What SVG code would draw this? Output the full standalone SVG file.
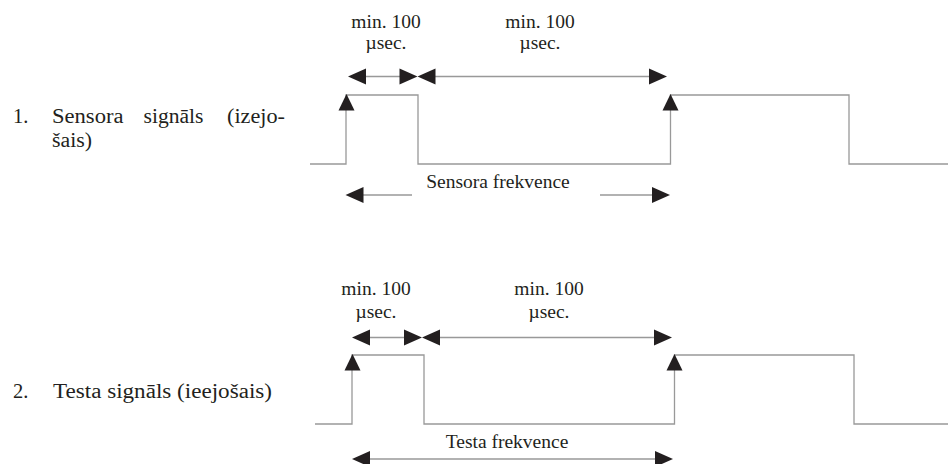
<svg xmlns="http://www.w3.org/2000/svg" width="949" height="464" viewBox="0 0 949 464">
  <style>
    .sig { fill: none; stroke: #999; stroke-width: 1.3; }
    .dim { fill: none; stroke: #999; stroke-width: 1.3; }
    .head { fill: #231f20; }
    .lbl { font-size: 19.5px; text-anchor: middle; fill: #231f20; }
    .cap { font-size: 20.5px; fill: #231f20; }
  </style>
  <defs>
    <!-- arrowheads drawn with their tip at the origin -->
    <path id="tipR" d="M0,0 L-18,-8 L-18,8 Z"/>
    <path id="tipL" d="M0,0 L18,-8 L18,8 Z"/>
    <path id="tipU" d="M0,0 L-8,16.5 L8,16.5 Z"/>
  </defs>

  <rect width="949" height="464" fill="#fff"/>

  <!-- 1. sensor output signal (justified caption) -->
  <g id="sensor-label">
    <text class="cap" font-family="Liberation Serif" x="13" y="123">1.</text>
    <text class="cap" font-family="Liberation Serif" x="52" y="123" textLength="71.5" lengthAdjust="spacingAndGlyphs">Sensora</text>
    <text class="cap" font-family="Liberation Serif" x="143.5" y="123" textLength="60" lengthAdjust="spacingAndGlyphs">signāls</text>
    <text class="cap" font-family="Liberation Serif" x="227" y="123" textLength="58" lengthAdjust="spacingAndGlyphs">(izejo-</text>
    <text class="cap" font-family="Liberation Serif" x="52" y="146.5" textLength="40" lengthAdjust="spacingAndGlyphs">šais)</text>
  </g>
  <g id="sensor-signal">
    <path class="sig" d="M310,164 H346 V95 H418 V164 H670.5 V95 H849 V164 H948"/>
    <use href="#tipU" class="head" x="346.5" y="94"/>
    <use href="#tipU" class="head" x="670.5" y="94"/>
  </g>
  <g id="sensor-timing">
    <text class="lbl" font-family="Liberation Serif" x="386" y="28">min. 100</text>
    <text class="lbl" font-family="Liberation Serif" x="386" y="49">µsec.</text>
    <text class="lbl" font-family="Liberation Serif" x="540" y="28">min. 100</text>
    <text class="lbl" font-family="Liberation Serif" x="540" y="49">µsec.</text>
    <text class="lbl" font-family="Liberation Serif" x="498" y="188">Sensora frekvence</text>
  </g>

  <!-- 2. test input signal -->
  <g id="test-label">
    <text class="cap" font-family="Liberation Serif" x="13" y="398">2.</text>
    <text class="cap" font-family="Liberation Serif" x="53" y="398" textLength="219" lengthAdjust="spacingAndGlyphs">Testa signāls (ieejošais)</text>
  </g>
  <g id="test-signal">
    <path class="sig" d="M315,424 H352 V355 H424 V424 H674.5 V355 H854 V424 H948"/>
    <use href="#tipU" class="head" x="352.5" y="354"/>
    <use href="#tipU" class="head" x="674.5" y="354"/>
  </g>
  <g id="test-timing">
    <text class="lbl" font-family="Liberation Serif" x="376" y="295">min. 100</text>
    <text class="lbl" font-family="Liberation Serif" x="376" y="318">µsec.</text>
    <text class="lbl" font-family="Liberation Serif" x="549" y="295">min. 100</text>
    <text class="lbl" font-family="Liberation Serif" x="549" y="318">µsec.</text>
    <text class="lbl" font-family="Liberation Serif" x="507" y="448">Testa frekvence</text>
  </g>

  <!-- dimension arrows -->
  <g id="connectors">
    <!-- sensor: pulse width and gap -->
    <path class="dim" d="M360,76.5 H410 M425,76.5 H655"/>
    <use href="#tipL" class="head" x="348" y="76.5"/>
    <use href="#tipR" class="head" x="417.5" y="76.5"/>
    <use href="#tipL" class="head" x="417.5" y="76.5"/>
    <use href="#tipR" class="head" x="667" y="76.5"/>
    <!-- sensor: period -->
    <path class="dim" d="M358,195 H412 M600,195 H655"/>
    <use href="#tipL" class="head" x="345.5" y="195"/>
    <use href="#tipR" class="head" x="670" y="195"/>

    <!-- test: pulse width and gap -->
    <path class="dim" d="M364,337.5 H415 M430,337.5 H660"/>
    <use href="#tipL" class="head" x="352" y="337.5"/>
    <use href="#tipR" class="head" x="422" y="337.5"/>
    <use href="#tipL" class="head" x="422" y="337.5"/>
    <use href="#tipR" class="head" x="672" y="337.5"/>
    <!-- test: period -->
    <path class="dim" d="M364,459 H660"/>
    <use href="#tipL" class="head" x="352" y="459"/>
    <use href="#tipR" class="head" x="673" y="459"/>
  </g>
</svg>
